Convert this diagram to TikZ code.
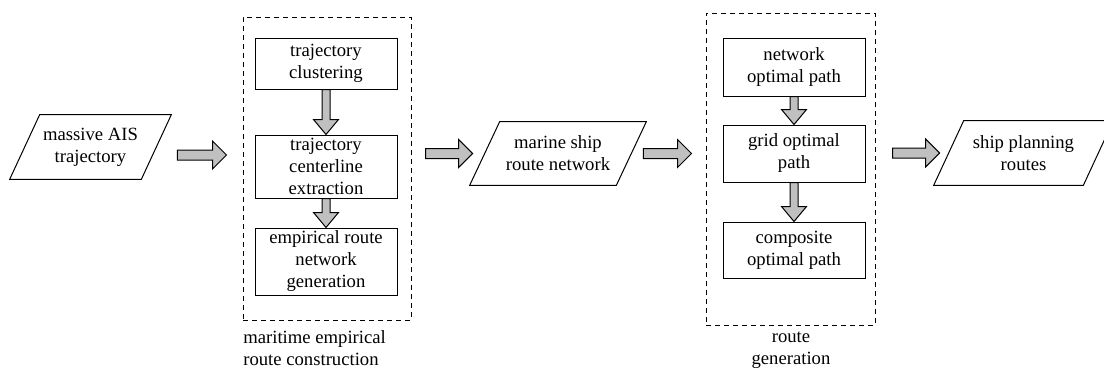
\documentclass[tikz,border=0pt]{standalone}
\usepackage{fontspec}
\setmainfont{Liberation Serif}
\usepackage{tikz}
\usetikzlibrary{calc,positioning}
\definecolor{arrowgray}{RGB}{192,192,192}

\begin{document}
\begin{tikzpicture}[
  x=0.6pt, y=-0.6pt,
  font=\fontsize{11.2}{13.2}\selectfont,
  stepbox/.style={draw,line width=0.6pt,minimum width=85.2pt,align=center,inner sep=0.5pt},
  io/.style={align=center,inner sep=0pt},
  ioline/.style={draw,line width=0.6pt},
  group/.style={draw,line width=0.6pt,dash pattern=on 3pt off 2.4pt},
  hfat/.style={draw,line width=0.6pt,fill=arrowgray,to path={
    let \p1=(\tikztostart), \p2=(\tikztotarget) in
    (\x1,\y1+3pt) -- (\x2-8.4pt,\y1+3pt) -- (\x2-8.4pt,\y1+8.4pt) -- (\x2,\y1)
    -- (\x2-8.4pt,\y1-8.4pt) -- (\x2-8.4pt,\y1-3pt) -- (\x1,\y1-3pt) -- cycle}},
  vfat/.style={draw,line width=0.6pt,fill=arrowgray,to path={
    let \p1=(\tikztostart), \p2=(\tikztotarget) in
    (\x1-2.4pt,\y1) -- (\x1-2.4pt,\y2+9pt) -- (\x1-7.5pt,\y2+9pt) -- (\x1,\y2)
    -- (\x1+7.5pt,\y2+9pt) -- (\x1+2.4pt,\y2+9pt) -- (\x1+2.4pt,\y1) -- cycle}}
]
  \useasboundingbox (0,0) rectangle (1104,368);

  % route construction
  \node[group,minimum width=100.8pt,minimum height=181.8pt] (mrc) at (327,168.5) {};
  \node[stepbox,minimum height=30.6pt] (clus) at (326,63.5) {trajectory\\clustering};
  \node[stepbox,minimum height=37.8pt] (cent) at (326,166.5) {trajectory\\centerline\\extraction};
  \node[stepbox,minimum height=40.2pt] (netgen) at (326,261.5) {empirical route\\network\\generation};
  \node[anchor=west,align=left,inner sep=0pt] (mrclab) at (243,348) {maritime empirical\\route construction};

  % route generation
  \node[group,minimum width=101.4pt,minimum height=187.2pt] (rg) at (790.5,169) {};
  \node[stepbox,minimum height=34.8pt] (netopt) at (794,67) {network\\optimal path};
  \node[stepbox,minimum height=34.2pt] (gridopt) at (794,153.5) {grid optimal\\path};
  \node[stepbox,minimum height=33.6pt] (compopt) at (794,250) {composite\\optimal path};
  \node[align=center,inner sep=0pt] (rglab) at (791,350) {route\\generation};

  % data
  \node[io,minimum width=78.6pt,minimum height=38.4pt] (ais) at (90.5,147) {massive AIS\\trajectory};
  \node[io,minimum width=87.6pt,minimum height=37.8pt] (mrn) at (558,153.5) {marine ship\\route network};
  \node[io,minimum width=89.4pt,minimum height=38.4pt] (plan) at (1023.5,153) {ship planning\\routes};
  \foreach \n in {ais,mrn,plan}
    \draw[ioline] ([xshift=-9pt]\n.south west) -- ([xshift=9pt]\n.north west)
      -- ([xshift=9pt]\n.north east) -- ([xshift=-9pt]\n.south east) -- cycle;

  \draw[hfat] ($(ais.east)+(12.6pt,-4.8pt)$) to ($(mrc.west)+(-9.6pt,0)$);
  \draw[hfat] ($(mrc.east |- mrn.west)+(8.4pt,0)$) to ($(mrn.west)+(-7.2pt,0)$);
  \draw[hfat] ($(mrn.east)+(7.2pt,0)$) to ($(rg.west)+(-8.4pt,0)$);
  \draw[hfat] ($(rg.east |- plan.west)+(10.2pt,0)$) to ($(plan.west)+(-5.4pt,0)$);
  \draw[vfat] (clus.south) to (cent.north);
  \draw[vfat] (cent.south) to (netgen.north);
  \draw[vfat] (netopt.south) to (gridopt.north);
  \draw[vfat] (gridopt.south) to (compopt.north);
\end{tikzpicture}
\end{document}
